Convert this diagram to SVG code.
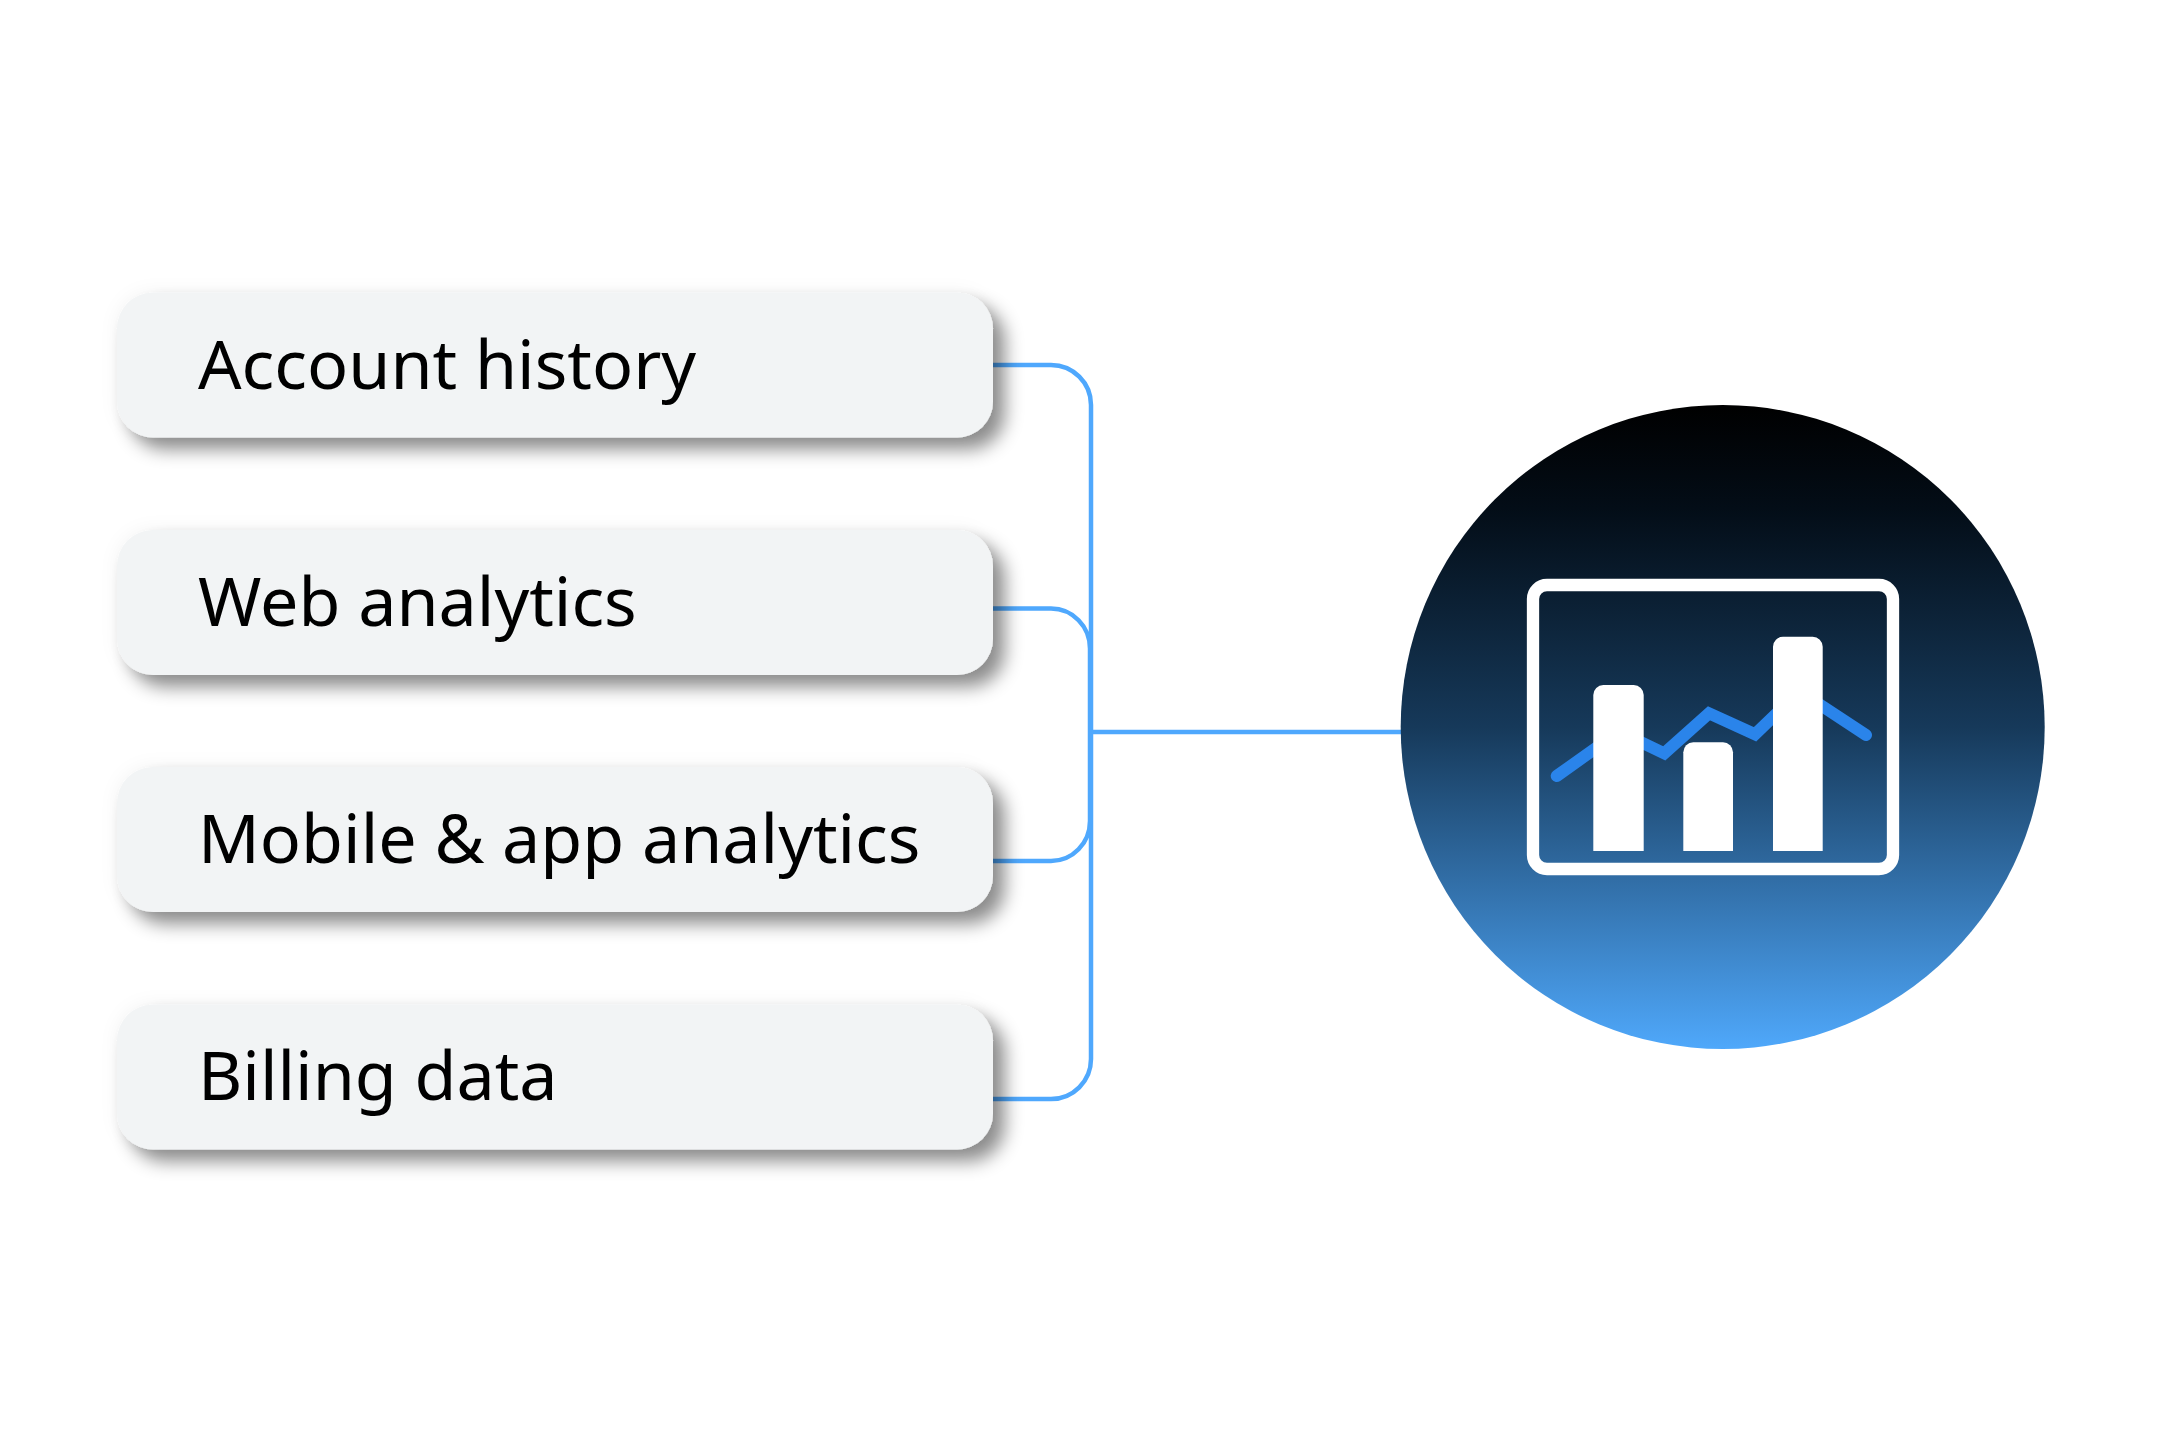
<svg xmlns="http://www.w3.org/2000/svg" width="2160" height="1441" viewBox="0 0 2160 1441">
<style>
.box{fill:#f2f4f5;filter:url(#sh)}
.lbl{font-family:"Noto Sans",sans-serif;font-size:68.2px;fill:#000}
.c{fill:none;stroke:#4fa8fd;stroke-width:4.5}
.bar{fill:#fff}
</style>
<defs>
<filter id="sh" x="-10%" y="-30%" width="120%" height="170%">
<feGaussianBlur in="SourceAlpha" stdDeviation="9" result="b"/>
<feOffset in="b" dx="12" dy="12" result="o"/>
<feFlood flood-color="#000" flood-opacity="0.44"/><feComposite in2="o" operator="in" result="s1"/>
<feFlood flood-color="#000" flood-opacity="0.05"/><feComposite in2="b" operator="in" result="s2"/>
<feMerge><feMergeNode in="s2"/><feMergeNode in="s1"/><feMergeNode in="SourceGraphic"/></feMerge>
</filter>
<linearGradient id="g" x1="0" y1="0" x2="0" y2="1"><stop offset="0" stop-color="#000"/><stop offset="0.16" stop-color="#030d17"/><stop offset="0.5" stop-color="#16395a"/><stop offset="1" stop-color="#4fa8fb"/></linearGradient>
</defs>
<rect width="2160" height="1441" fill="#fff"/>
<g id="connectors">
<path class="c" d="M993 365H1051A40 40 0 0 1 1091 405V1059A40 40 0 0 1 1051 1099H993"/>
<path class="c" d="M993 608.500H1051A39 40 0 0 1 1090 648.500V821A39 40 0 0 1 1051 861H993"/>
<path class="c" d="M1091 732H1403"/>
</g>
<g id="n1"><rect class="box" x="117" y="292.500" width="876" height="145" rx="36"/><text class="lbl" x="198" y="389">Account history</text></g>
<g id="n2"><rect class="box" x="117" y="530" width="876" height="145" rx="36"/><text class="lbl" x="198" y="626">Web analytics</text></g>
<g id="n3"><rect class="box" x="117" y="767" width="876" height="145" rx="36"/><text class="lbl" x="198" y="863">Mobile &amp; app analytics</text></g>
<g id="n4"><rect class="box" x="117" y="1004.500" width="876" height="145" rx="36"/><text class="lbl" x="198" y="1100">Billing data</text></g>
<g id="hub">
<circle cx="1722.7" cy="727" r="322" fill="url(#g)"/>
<polyline points="1556.7,776 1619,731.7 1664.3,753.3 1709,713.3 1755,734.3 1799.7,691.3 1866,735" fill="none" stroke="#2a84ea" stroke-width="12" stroke-linecap="round"/>
<rect x="1533" y="585" width="360" height="284" rx="14" fill="none" stroke="#fff" stroke-width="12.3"/>
<path class="bar" d="M1593.3 851V695a10 10 0 0 1 10-10H1633.700a10 10 0 0 1 10 10V851Z"/>
<path class="bar" d="M1683.3 851V752.3a10 10 0 0 1 10-10H1723a10 10 0 0 1 10 10V851Z"/>
<path class="bar" d="M1773 851V646.700a10 10 0 0 1 10-10H1812.700a10 10 0 0 1 10 10V851Z"/>
</g>
</svg>
